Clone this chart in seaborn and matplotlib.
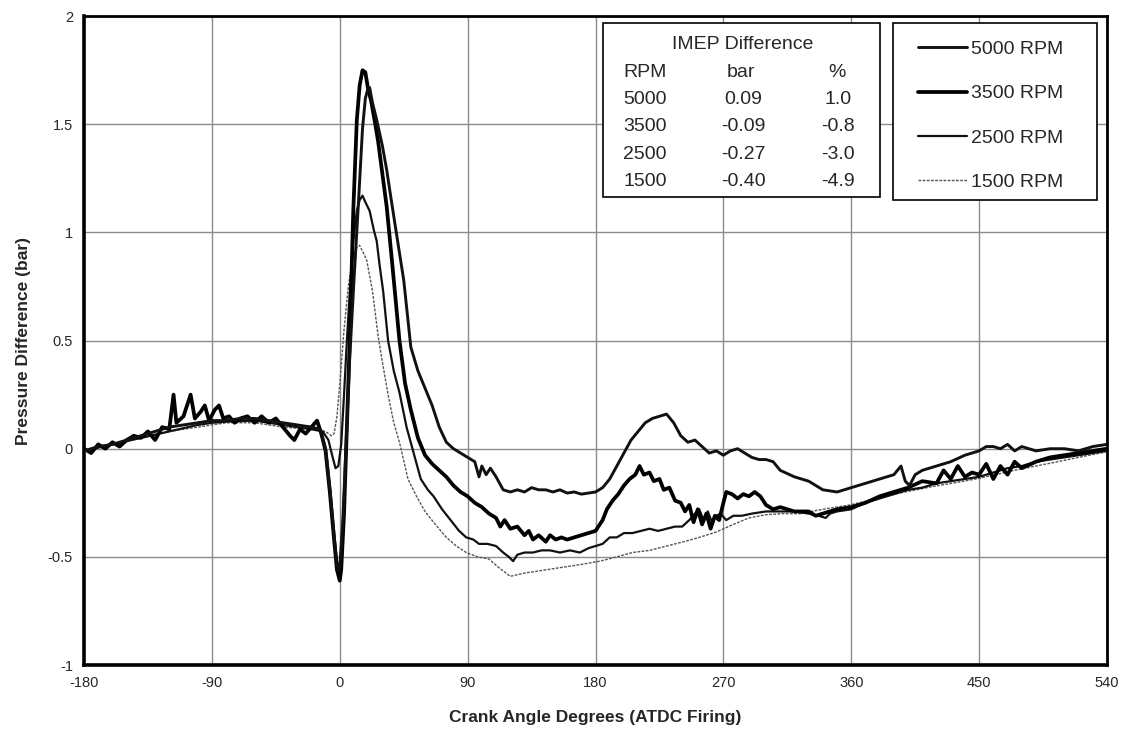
import matplotlib
matplotlib.use("Agg")
import matplotlib.pyplot as plt
import seaborn as sns
import pandas as pd
from matplotlib.patches import Rectangle

# ---------------- data ----------------
ang_5000 = [-180,-170,-160,-150,-140,-130,-120,-110,-100,-90,-80,-70,-60,-50,-40,-30,-20,-14,
            -10,-7,-4,-2,-1,0,2,4,7,10,13,16,18,20,21,23,26,30,33,36,40,45,50,55,60,65,70,75,80,
            85,90,95,98,100,103,106,110,115,120,125,130,135,140,145,150,155,160,165,170,175,180,
            185,190,195,200,205,210,215,220,225,230,235,240,245,250,255,260,265,270,275,280,285,
            290,295,300,305,310,320,330,340,350,360,370,380,390,395,398,401,405,410,420,430,440,
            450,455,460,465,470,475,480,490,500,510,520,530,540]
p_5000 = [-0.01,0.01,0.02,0.04,0.06,0.08,0.10,0.11,0.12,0.13,0.13,0.14,0.14,0.13,0.12,0.11,0.10,0.09,
          0.0,-0.18,-0.40,-0.53,-0.56,-0.54,-0.35,-0.05,0.42,0.78,1.12,1.48,1.62,1.67,1.67,1.60,1.52,1.40,
          1.29,1.16,0.99,0.78,0.47,0.36,0.28,0.20,0.10,0.03,0.00,
          -0.02,-0.04,-0.06,-0.13,-0.08,-0.12,-0.09,-0.13,-0.19,-0.20,-0.19,-0.20,-0.18,-0.19,-0.19,-0.20,
          -0.19,-0.205,-0.20,-0.21,-0.205,-0.20,
          -0.18,-0.14,-0.08,-0.02,0.04,0.08,0.12,0.14,0.15,0.16,0.12,0.06,0.03,0.04,0.01,-0.02,-0.01,-0.03,
          -0.01,0.00,-0.02,
          -0.04,-0.05,-0.05,-0.06,-0.10,-0.13,-0.15,-0.19,-0.20,-0.18,-0.16,-0.14,-0.12,-0.08,-0.15,-0.17,
          -0.12,-0.10,-0.08,-0.06,-0.03,
          -0.01,0.01,0.01,0.0,0.02,-0.01,0.01,-0.01,0.0,0.0,-0.01,0.01,0.02]

ang_3500 = [-180,-175,-170,-165,-160,-155,-150,-145,-140,-135,-130,-125,-120,-117,-115,-110,-105,-102,
            -98,-95,-92,-88,-85,-82,-78,-74,-70,-65,-60,-55,-50,-45,-40,-35,-32,-28,-24,-20,-16,-13,
            -10,-7,-4,-2,0,1,3,5,7,9.5,12,14,16,18,20,22,25,27,30,33,37,42,46,50,55,60,65,70,75,80,
            85,90,95,100,105,110,113,116,120,125,130,133,136,140,145,148,152,156,160,165,170,175,180,
            185,188,192,196,200,204,208,211,214,218,221,225,228,232,236,240,243,246,249,252,255,258,
            261,264,267,270,272,276,280,284,288,292,296,300,305,310,320,330,335,340,350,360,370,380,
            390,400,410,420,425,430,435,440,445,450,455,460,465,470,475,480,490,500,510,520,530,540]
p_3500 = [0.0,-0.02,0.02,0.0,0.03,0.01,0.04,0.06,0.05,0.08,0.04,0.10,0.09,0.25,0.12,0.15,0.25,0.14,
          0.17,0.20,0.13,0.18,0.20,0.14,0.15,0.12,0.14,0.15,0.12,0.15,0.12,0.14,0.10,0.06,0.04,0.09,
          0.07,0.10,0.13,0.07,
          -0.01,-0.20,-0.42,-0.56,-0.61,-0.56,-0.30,0.10,0.50,1.10,1.52,1.68,1.75,1.74,1.66,1.61,1.50,
          1.42,1.27,1.12,0.85,0.50,0.30,0.18,0.05,-0.03,-0.07,-0.10,-0.13,-0.17,
          -0.20,-0.22,-0.25,-0.27,-0.30,-0.32,-0.36,-0.33,-0.37,-0.36,-0.40,-0.38,-0.42,-0.40,-0.43,
          -0.40,-0.42,-0.41,-0.42,-0.41,-0.40,-0.39,-0.38,
          -0.33,-0.28,-0.24,-0.21,-0.17,-0.14,-0.12,-0.08,-0.12,-0.11,-0.15,-0.14,-0.19,-0.18,-0.24,
          -0.25,-0.29,-0.26,-0.34,-0.28,-0.35,-0.30,
          -0.37,-0.31,-0.33,-0.25,-0.20,-0.21,-0.23,-0.21,-0.22,-0.20,-0.22,-0.26,-0.28,-0.27,-0.29,
          -0.29,-0.31,-0.30,-0.28,-0.27,-0.25,-0.22,
          -0.20,-0.18,-0.15,-0.16,-0.10,-0.14,-0.08,-0.13,-0.11,-0.12,-0.07,-0.14,-0.08,-0.12,-0.06,
          -0.09,-0.06,-0.04,-0.03,-0.02,-0.01,0.0]

ang_2500 = [-180,-160,-140,-120,-100,-90,-80,-60,-40,-20,-12,-8,-5,-3,-1,1,3,5,7,9.5,12,14,16,18,
            21,24,26,28,30.5,34,38,42,47,52,57,62,66,72,78,84,89,94,98,104,110,115,119,122,125,130,
            136,142,148,155,162,169,175,180,185,190,195,200,206,212,218,224,230,236,241,246,250,253,
            256,259,262,265,268,272,277,283,290,300,310,320,330,337,342,345,350,360,370,380,390,400,
            410,420,430,440,450,460,470,480,490,500,510,520,530,540]
p_2500 = [-0.01,0.02,0.05,0.08,0.11,0.12,0.125,0.13,0.11,0.09,0.08,0.04,-0.04,-0.09,-0.08,0.02,0.25,
          0.50,0.72,0.96,1.10,1.15,1.17,1.14,
          1.10,1.01,0.96,0.85,0.73,0.50,0.36,0.26,0.10,-0.02,-0.14,-0.19,-0.22,-0.28,-0.33,-0.38,-0.41,
          -0.42,-0.44,-0.44,-0.45,-0.48,-0.50,-0.52,-0.49,-0.48,
          -0.48,-0.47,-0.47,-0.48,-0.47,-0.48,-0.46,-0.45,-0.44,-0.41,-0.41,-0.39,-0.39,-0.38,-0.37,
          -0.38,-0.37,-0.36,-0.36,-0.33,-0.30,-0.28,
          -0.33,-0.29,-0.34,-0.31,-0.30,-0.33,-0.31,-0.31,-0.30,-0.29,-0.29,-0.29,-0.30,-0.31,-0.32,
          -0.30,-0.29,-0.28,-0.25,-0.23,-0.21,-0.19,
          -0.18,-0.16,-0.15,-0.14,-0.13,-0.11,-0.09,-0.08,-0.06,-0.05,-0.04,-0.03,-0.02,-0.01]

ang_1500 = [-180,-160,-140,-120,-100,-80,-60,-40,-20,-10,-6,-4,-2,0,3,6,9,12,14,17,19,23,27,30,34,
            38,42,48,54,60,66,75,82,89,97,105,112,120,130,140,150,160,170,183,195,206,218,230,242,
            253,265,277,288,300,312,324,340,359,375,394,417,435,450,476,500,520,540]
p_1500 = [-0.01,0.02,0.05,0.08,0.10,0.12,0.12,0.10,0.09,0.08,0.06,0.07,0.15,0.30,0.55,0.75,0.88,0.93,
          0.94,0.90,0.87,0.73,0.52,0.40,0.25,
          0.12,0.03,-0.14,-0.22,-0.29,-0.34,-0.41,-0.45,-0.48,-0.50,-0.51,-0.55,-0.59,-0.575,-0.565,
          -0.555,-0.545,-0.535,-0.52,-0.50,-0.48,-0.47,-0.45,-0.43,
          -0.41,-0.385,-0.35,-0.32,-0.305,-0.30,-0.30,-0.28,-0.26,-0.235,-0.205,-0.175,-0.155,-0.137,
          -0.098,-0.067,-0.04,-0.014]

series_labels = ["5000 RPM", "3500 RPM", "2500 RPM", "1500 RPM"]

table_rpm = ["5000", "3500", "2500", "1500"]
table_bar = ["0.09", "-0.09", "-0.27", "-0.40"]
table_pct = ["1.0", "-0.8", "-3.0", "-4.9"]

x_ticks = [-180, -90, 0, 90, 180, 270, 360, 450, 540]
y_ticks = [-1, -0.5, 0, 0.5, 1, 1.5, 2]
y_tick_labels = ["-1", "-0.5", "0", "0.5", "1", "1.5", "2"]

# ---------------- styling ----------------
sns.set_style("white")
plt.rcParams["font.family"] = ["Liberation Sans", "DejaVu Sans"]

fig = plt.figure(figsize=(11.25, 7.34), dpi=100)
ax = fig.add_axes([0.0747, 0.094, 0.9093, 0.884])

styles = {
    "5000 RPM": dict(color="#111111", lw=2.1, ls="-"),
    "3500 RPM": dict(color="#000000", lw=2.7, ls="-"),
    "2500 RPM": dict(color="#111111", lw=1.6, ls="-"),
    "1500 RPM": dict(color="#555555", lw=1.0, ls=(0, (2, 1))),
}
data = {
    "5000 RPM": (ang_5000, p_5000),
    "3500 RPM": (ang_3500, p_3500),
    "2500 RPM": (ang_2500, p_2500),
    "1500 RPM": (ang_1500, p_1500),
}

for lab in reversed(series_labels):
    a, p = data[lab]
    df = pd.DataFrame({"angle": a, "p": p})
    st = styles[lab]
    sns.lineplot(data=df, x="angle", y="p", ax=ax, color=st["color"], lw=st["lw"],
                 linestyle=st["ls"], label=lab, estimator=None, sort=False, zorder=3)

ax.set_xlim(-180, 540)
ax.set_ylim(-1, 2)
ax.set_xticks(x_ticks)
ax.set_xticklabels([str(t) for t in x_ticks], fontsize=10.5)
ax.set_yticks(y_ticks)
ax.set_yticklabels(y_tick_labels, fontsize=10.5)
ax.tick_params(axis="both", direction="out", length=4, width=1, color="black", pad=4)
ax.grid(True, color="#8c8c8c", lw=1.0, zorder=0)
ax.set_axisbelow(True)
for side in ["left", "bottom"]:
    ax.spines[side].set_linewidth(2.6)
for side in ["top", "right"]:
    ax.spines[side].set_linewidth(2.0)
for s in ax.spines.values():
    s.set_color("black")

ax.set_xlabel("Crank Angle Degrees (ATDC Firing)", fontsize=12.5, fontweight="bold", labelpad=14)
ax.set_ylabel("Pressure Difference (bar)", fontsize=12.5, fontweight="bold", labelpad=12)

# legend: frame drawn as a box, entries placed inside it
leg_box = Rectangle((0.7905, 0.7165), 0.1994, 0.2723, transform=ax.transAxes,
                    facecolor="white", edgecolor="black", lw=1.2, zorder=5)
ax.add_patch(leg_box)
handles, labels = ax.get_legend_handles_labels()
order = [labels.index(l) for l in series_labels]
leg = ax.legend([handles[i] for i in order], [labels[i] for i in order],
                loc="upper left", bbox_to_anchor=(0.8152, 0.9628), fontsize=14,
                frameon=False, handlelength=2.5, handletextpad=0.22, labelspacing=1.38,
                borderpad=0, borderaxespad=0)
leg.set_zorder(6)

# IMEP table
tbl = Rectangle((0.5076, 0.7216), 0.2704, 0.2672, transform=ax.transAxes,
                facecolor="white", edgecolor="black", lw=1.2, zorder=5)
ax.add_patch(tbl)
fs = 14
ax.text(0.6437, 0.9501, "IMEP Difference", transform=ax.transAxes, ha="center", va="baseline",
        fontsize=fs, zorder=6)
hdr_y = 0.9065
ax.text(0.5272, hdr_y, "RPM", transform=ax.transAxes, ha="left", va="baseline", fontsize=fs, zorder=6)
ax.text(0.642, hdr_y, "bar", transform=ax.transAxes, ha="center", va="baseline", fontsize=fs, zorder=6)
ax.text(0.7358, hdr_y, "%", transform=ax.transAxes, ha="center", va="baseline", fontsize=fs, zorder=6)
row_y = [0.8644, 0.8223, 0.7803, 0.7382]
for ry, r, b, pc in zip(row_y, table_rpm, table_bar, table_pct):
    ax.text(0.5272, ry, r, transform=ax.transAxes, ha="left", va="baseline", fontsize=fs, zorder=6)
    ax.text(0.6442, ry, b, transform=ax.transAxes, ha="center", va="baseline", fontsize=fs, zorder=6)
    ax.text(0.737, ry, pc, transform=ax.transAxes, ha="center", va="baseline", fontsize=fs, zorder=6)

fig.savefig("out.png", dpi=100)
